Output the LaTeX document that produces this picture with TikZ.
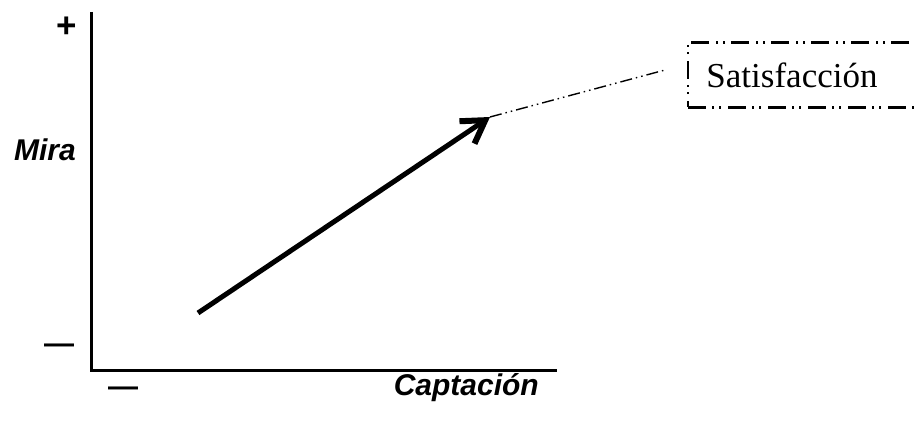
\documentclass[tikz,border=0pt]{standalone}
\usepackage{fontspec}
\setmainfont{Liberation Serif}
\setsansfont{Liberation Sans}
\usetikzlibrary{arrows.meta}

\tikzset{
  axislabel/.style={font=\sffamily\bfseries\itshape\fontsize{30}{30}\selectfont,inner sep=0pt},
  mark sign/.style={font=\sffamily\bfseries\fontsize{30}{30}\selectfont,inner sep=0pt},
  dashdotdot/.style={dash pattern=on 18pt off 6pt on 2pt off 5pt on 2pt off 7pt}
}

\begin{document}
\begin{tikzpicture}[x=1pt,y=-1pt,line cap=butt,line join=miter]
  \useasboundingbox (0,0) rectangle (916,427);

  % axes: origin bottom left
  \coordinate (ytop) at (91,12);
  \coordinate (O) at (91,371);
  \coordinate (xend) at (557,371);
  \draw[line width=3pt] (ytop)--(O)--(xend);

  \node[mark sign,font=\sffamily\bfseries\fontsize{35}{35}\selectfont] (yplus) at (67,27) {+};
  \node[mark sign] (yminus) at (59,349) {—};
  \node[mark sign] (xminus) at (123,392) {—};
  \node[mark sign,font=\sffamily\bfseries\fontsize{35}{35}\selectfont] (xplus) at (118,441) {+};

  \node[axislabel,anchor=east] (mira) at (76,150) {Mira};
  \node[axislabel,anchor=east] (capt) at (539,388) {Captación};

  % the rising arrow
  \coordinate (astart) at (198,313);
  \coordinate (atip) at (490,117);
  \draw[line width=5pt,-{Straight Barb[length=22pt,width=27pt,line width=6pt]}]
    (astart)--(atip);

  \node[draw,line width=2.2pt,dashdotdot,minimum width=238pt,minimum height=65pt,
        font=\fontsize{35}{35}\selectfont,text depth=0pt,align=left]
    (satis) at (807,75) {Satisfacción\hspace*{30pt}};
  \coordinate (lend) at (665,70);
  \draw[line width=1.4pt,dash pattern=on 12pt off 4pt on 1.5pt off 4pt on 1.5pt off 4pt]
    (atip)--(lend);
\end{tikzpicture}
\end{document}
